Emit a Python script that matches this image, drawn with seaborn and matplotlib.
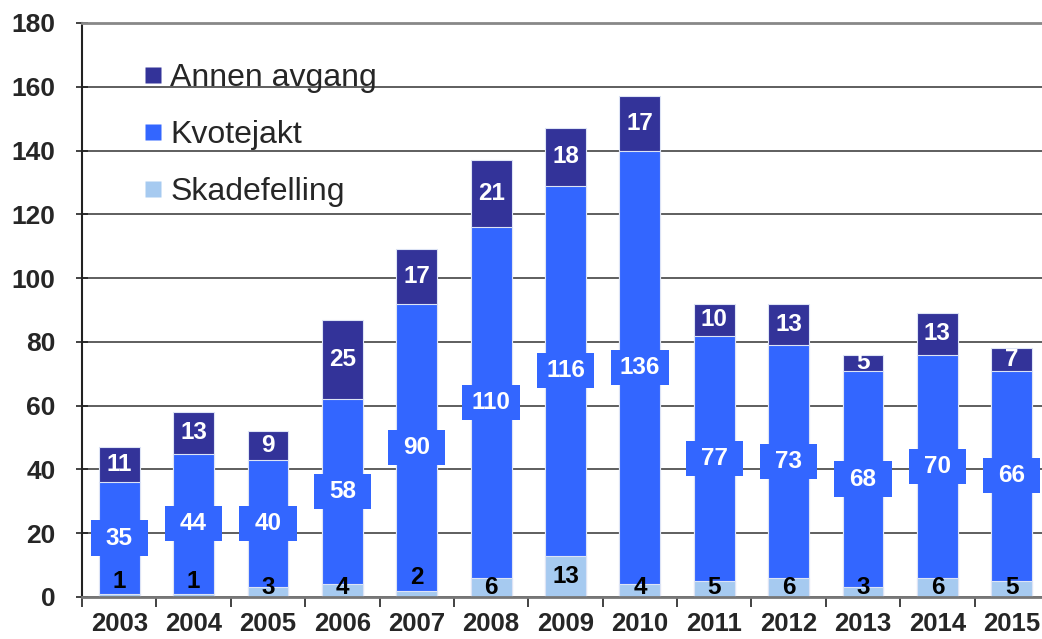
import numpy as np
import pandas as pd
import matplotlib
matplotlib.use("Agg")
import matplotlib.pyplot as plt
from matplotlib.lines import Line2D
from matplotlib.patches import Rectangle
import seaborn as sns

# ==============================
# 1. Data
# ==============================
years = ["2003", "2004", "2005", "2006", "2007", "2008", "2009",
         "2010", "2011", "2012", "2013", "2014", "2015"]
skadefelling = [1, 1, 3, 4, 2, 6, 13, 4, 5, 6, 3, 6, 5]
kvotejakt = [35, 44, 40, 58, 90, 110, 116, 136, 77, 73, 68, 70, 66]
annen_avgang = [11, 13, 9, 25, 17, 21, 18, 17, 10, 13, 5, 13, 7]

c_annen = "#333399"
c_kvote = "#3366FF"
c_skade = "#A6CAF0"

df = pd.DataFrame({
    "year": years,
    "skade": skadefelling,
    "kvote": kvotejakt,
    "annen": annen_avgang,
})
df["skade_kvote"] = df["skade"] + df["kvote"]
df["total"] = df["skade_kvote"] + df["annen"]

# ==============================
# 2. Plot
# ==============================
sns.set_style("white")
plt.rcParams["font.family"] = ["Liberation Sans", "DejaVu Sans"]

fig = plt.figure(figsize=(10.42, 6.39), dpi=100)
ax = fig.add_axes([82 / 1042, 1 - 597 / 639, 967 / 1042, 574 / 639])

bar_kw = dict(width=0.55, edgecolor="#dde4f5", linewidth=0.8, ax=ax, zorder=2)
sns.barplot(data=df, x="year", y="total", color=c_annen, saturation=1, **bar_kw)
sns.barplot(data=df, x="year", y="skade_kvote", color=c_kvote, saturation=1, **bar_kw)
sns.barplot(data=df, x="year", y="skade", color=c_skade, saturation=1, **bar_kw)

# value labels
lbl_size = 17.5
for i, row in df.iterrows():
    s = row["skade"]
    ys = s + 4 if s <= 2 else max(s / 2, 3)
    ax.text(i, ys, str(s), ha="center", va="center", fontsize=lbl_size,
            fontweight="bold", color="black", zorder=5)
    yk = s + row["kvote"] / 2
    # label box of kvotejakt, a bit wider than the bar
    ax.add_patch(Rectangle((i - 0.385, yk - 5.5), 0.77, 11, facecolor=c_kvote,
                           edgecolor="none", zorder=4))
    ax.text(i, yk, str(row["kvote"]), ha="center", va="center",
            fontsize=lbl_size, fontweight="bold", color="white", zorder=5)
    ax.text(i, row["skade_kvote"] + row["annen"] / 2, str(row["annen"]),
            ha="center", va="center", fontsize=lbl_size, fontweight="bold",
            color="white", zorder=5)

# axes styling
ax.set_xlim(-0.5, len(years) - 0.5)
ax.set_ylim(0, 180)
ax.set_yticks(np.arange(0, 181, 20))
ax.set_xlabel("")
ax.set_ylabel("")
ax.set_axisbelow(True)
ax.yaxis.grid(True, color="#333333", linewidth=1.1)
ax.xaxis.grid(False)

ax.spines["left"].set_color("#222222")
ax.spines["left"].set_linewidth(1.5)
ax.spines["bottom"].set_color("#777777")
ax.spines["bottom"].set_linewidth(2)
ax.spines["top"].set_color("#888888")
ax.spines["top"].set_linewidth(2)
ax.spines["right"].set_visible(False)

ax.tick_params(axis="y", direction="inout", length=8, width=1.2, color="#222222",
               left=True, pad=15, labelsize=19)
for lbl in ax.get_yticklabels():
    lbl.set_fontweight("bold")

ax.set_xticks(np.arange(-0.5, len(years), 1.0), minor=True)
ax.tick_params(axis="x", which="minor", direction="out", length=7, width=1.2,
               color="#222222", bottom=True)
ax.tick_params(axis="x", which="major", length=0, pad=11, labelsize=18.5)
for lbl in ax.get_xticklabels():
    lbl.set_fontweight("bold")

# legend
handles = [
    Line2D([], [], marker="s", linestyle="none", markersize=12,
           markerfacecolor=c, markeredgecolor="none")
    for c in [c_annen, c_kvote, c_skade]
]
fig.legend(handles, ["Annen avgang", "Kvotejakt", "Skadefelling"],
           loc="upper left", bbox_to_anchor=(143 / 1042, 1 - 63 / 639),
           bbox_transform=fig.transFigure, frameon=False, fontsize=23,
           handlelength=0.6, handletextpad=0.25, labelspacing=0.85,
           borderpad=0, borderaxespad=0)

fig.savefig("out.png", dpi=100)
plt.close(fig)
